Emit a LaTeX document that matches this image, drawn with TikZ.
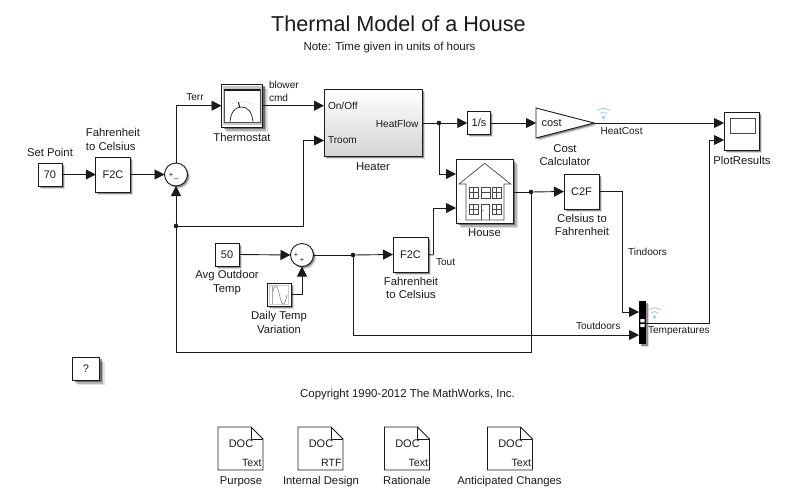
\documentclass[tikz,border=0pt]{standalone}
\usepackage{fontspec}
\setmainfont{Liberation Sans}
\usetikzlibrary{arrows.meta,shadows,shapes.geometric,calc}
\definecolor{ln}{HTML}{1A1A1A}
\definecolor{wifi}{HTML}{A9C8E6}
\tikzset{
  x=1pt,y=-1pt,
  lbl/.style={inner sep=0,outer sep=0,font=\fontsize{11.3}{13.6}\selectfont,text=ln,align=center},
  sig/.style={lbl,font=\fontsize{10.1}{12.5}\selectfont},
  shad/.style={general shadow={fill=black,opacity=.14,shadow xshift=2.6pt,shadow yshift=-2.6pt},
               general shadow={fill=black,opacity=.35,shadow xshift=1.5pt,shadow yshift=-1.5pt}},
  bigshad/.style={general shadow={fill=black,opacity=.12,shadow xshift=5pt,shadow yshift=-5pt},
               general shadow={fill=black,opacity=.2,shadow xshift=3.5pt,shadow yshift=-3.5pt},
               general shadow={fill=black,opacity=.4,shadow xshift=2pt,shadow yshift=-2pt}},
  blkbase/.style={draw=ln,line width=.9pt,fill=white,inner sep=0,outer sep=0,rectangle,font=\fontsize{11}{13}\selectfont,text=ln},
  blk/.style={blkbase,shad},
  bigblk/.style={blkbase,bigshad},
  sumb/.style={blk,circle,minimum size=23pt},
  wire/.style={draw=ln,line width=.9pt,-{Triangle[length=10pt,width=10pt]}},
  seg/.style={draw=ln,line width=.9pt},
  dot/.style={circle,fill=ln,inner sep=0,outer sep=0,minimum size=4.6pt},
  sgn/.style={inner sep=0,font=\fontsize{7.5}{8}\selectfont,text=ln},
  icon/.style={draw=ln!75,line width=.7pt},
  wf/.style={draw=wifi,line width=.8pt,line cap=round},
}
\newcommand{\docblock}[4]{% name, left, top, type
  \node[inner sep=0,outer sep=0,minimum width=45pt,minimum height=43pt,anchor=north west] (#1) at (#2,#3) {};
  \draw[draw=ln,line width=.8pt,fill=white] (#1.north west) -- ($(#1.north east)+(-12,0)$) -- ($(#1.north east)+(0,12)$) -- (#1.south east) -- (#1.south west) -- cycle;
  \draw[draw=ln,line width=.8pt] ($(#1.north east)+(-12,0)$) -- ($(#1.north east)+(-12,12)$) -- ($(#1.north east)+(0,12)$);
  \node[lbl,font=\fontsize{11}{13}\selectfont] (#1d) at ($(#1.north)+(0.5,17)$) {DOC};
  \node[lbl,anchor=east,font=\fontsize{10.6}{13}\selectfont] (#1t) at ($(#1.south east)+(-1.5,-7)$) {#4};
}
\newcommand{\wifiicon}[3]{% x, y (of dot), name
  \node[circle,fill=wifi,inner sep=0,minimum size=3.6pt] (#3) at (#1,#2) {};
  \draw[wf] (#1-3.6,#2-4) arc[start angle=-132,end angle=-48,radius=5.4];
  \draw[wf] (#1-6,#2-7) arc[start angle=-130,end angle=-50,radius=9.3];
}
\begin{document}
\begin{tikzpicture}
\useasboundingbox (0,0) rectangle (801,499);
\fill[white] (0,0) rectangle (801,499);

% titles
\node[lbl,font=\fontsize{21.6}{26}\selectfont] (title) at (398.5,24) {Thermal Model of a House};
\node[lbl,font=\fontsize{11.5}{14}\selectfont] (note) at (389.5,48) {Note: Time given in units of hours};

% blocks
\node[blk,minimum width=24pt,minimum height=23pt] (sp) at (50,174.5) {70};
\node[blk,minimum width=34.5pt,minimum height=35pt] (f1) at (113,174.5) {F2C};
\node[sumb] (s1) at (176,174.5) {};
\node[bigblk,minimum width=41pt,minimum height=43.5pt] (th) at (242,105.7) {};
\node[blk,minimum width=98pt,minimum height=67pt,shade,top color=white,middle color=black!4,bottom color=black!17] (he) at (373,122.5) {};
\node[blk,minimum width=23.5pt,minimum height=23pt] (int) at (479,123) {1/s};
\node[blk,isosceles triangle,isosceles triangle apex angle=56,isosceles triangle stretches=true,minimum width=30pt,minimum height=58pt,anchor=apex] (co) at (594,123) {};
\node[blk,minimum width=35pt,minimum height=38pt] (pl) at (741.5,131) {};
\node[bigblk,minimum width=57pt,minimum height=64pt] (ho) at (484.5,191) {};
\node[blk,minimum width=35pt,minimum height=35pt] (c2) at (581.5,191.5) {C2F};
\node[blk,minimum width=24pt,minimum height=23pt] (av) at (227,254.5) {50};
\node[sumb] (s2) at (302,255) {};
\node[blk,minimum width=24pt,minimum height=23pt] (si) at (279,294.5) {};
\node[blk,minimum width=35pt,minimum height=35pt] (f2) at (410.5,254.5) {F2C};
\node[rectangle,fill=black,shad,inner sep=0,outer sep=0,minimum width=7pt,minimum height=43pt] (mx) at (642.5,322.5) {};
\node[bigblk,minimum width=27pt,minimum height=23pt] (qm) at (86,368.5) {?};

% in-block details
\node[sgn] (p1) at (171,175) {+};
\node[sgn] (m1) at (176.5,178) {\_};
\node[sgn] (p2) at (296,255) {+};
\node[sgn] (p3) at (302,260.5) {+};
\node[sig,anchor=west] (on) at (328,105.7) {On/Off};
\node[sig,anchor=west] (tr) at (328,140.5) {Troom};
\node[sig,anchor=east] (hf) at (418.5,123.5) {HeatFlow};
\node[lbl,anchor=west,font=\fontsize{11}{13}\selectfont] (ct) at (541.5,123) {cost};

% thermostat icon
\fill[black!22] (223,85.5) rectangle (261.5,124.5);
\draw[icon,fill=white] (224.3,89) rectangle (260,122);
\draw[draw=ln,line width=1.3pt] (224.3,90) -- (260,90);
\draw[draw=ln,line width=.7pt] (230,121.7) .. controls (231,112) and (235,107) .. (241.5,107) .. controls (248,107) and (252,112) .. (253,121.7);
\draw[draw=ln,line width=1pt] (239.5,107) -- (238.5,102);
\fill[ln!70] (230,106) circle (.45) (233,103.5) circle (.45) (236.5,102) circle (.45) (242,101.5) circle (.45) (246,102) circle (.45) (250,103.5) circle (.45) (253,106) circle (.45);

% scope icon
\draw[draw=ln!80,line width=.8pt,fill=white] (730,118) rectangle (755.5,133);

% sine icon
\draw[draw=black!20,line width=.7pt,fill=white] (269.5,285) rectangle (288.5,304);
\draw[draw=black!50,line width=.55pt] (272,295) .. controls (274.5,283) and (277,283) .. (279.5,295) .. controls (282,307) and (284.5,307) .. (287,295);
\draw[draw=black!35,line width=.45pt] (272,286) -- (272,304);

% house icon
\draw[draw=ln!80,line width=.7pt,fill=white] (466,184) -- (459,184) -- (484.7,163.3) -- (510.7,184) -- (504,184) -- (504,220) -- (466,220) -- cycle;
\foreach \xa in {469,492}{
  \foreach \ya/\yb in {187/198,204/214}{
    \draw[draw=ln!80,line width=.55pt] (\xa,\ya) rectangle (\xa+9,\yb);
    \draw[draw=ln!80,line width=.55pt] (\xa+4.5,\ya) -- (\xa+4.5,\yb) (\xa,\ya/2+\yb/2) -- (\xa+9,\ya/2+\yb/2);
  }}
\draw[draw=ln!80,line width=.55pt] (481,187) rectangle (490,198) (481,192.5) -- (490,192.5);
\draw[draw=ln!80,line width=.55pt] (481.5,219.5) -- (481.5,204) -- (489,204) -- (489,219.5);
\fill[ln] (483,210.5) circle (.5);

% mux ports
\fill[white] (640.4,319) rectangle (644.6,322.3) (640.4,324) rectangle (644.6,327);

% junctions
\node[dot] (j1) at (176,226) {};
\node[dot] (j2) at (439,123) {};
\node[dot] (j3) at (531,192) {};
\node[dot] (j4) at (353,255) {};
\coordinate (c2a) at (303,226);
\coordinate (c3) at (531,352);
\coordinate (c3b) at (176,352);

% connectors
\draw[wire] (sp.east) -- (f1.west);
\draw[wire] (f1.east) -- (s1.west);
\draw[wire] (s1.north) |- (th.west);
\draw[wire] (th.east) -- (he.west |- th.east);
\draw[wire] (j1) -| (c2a) |- (he.west |- tr);
\draw[wire] (j1) -- (s1.south);
\draw[seg] (j1) -- (c3b) -- (c3) -- (j3);
\draw[seg] (he.east |- j2) -- (j2);
\draw[wire] (j2) -- (int.west);
\draw[wire] (int.east) -- (co.west |- int.east);
\draw[wire] (co.apex) -- (pl.west |- co.apex);
\draw[wire] (j2) |- (ho.west |- 0,174);
\coordinate (c4) at (433,255);
\draw[seg] (f2.east) -- (c4);
\draw[wire] (c4) |- (ho.west |- 0,208);
\draw[seg] (ho.east |- j3) -- (j3);
\draw[wire] (j3) -- (c2.west);
\draw[wire] (c2.east) -| (622,312) -- (mx.west |- 0,312);
\draw[wire] (av.east) -- (s2.west);
\draw[wire] (si.east) -| (s2.south);
\draw[seg] (s2.east) -- (j4);
\draw[wire] (j4) -- (f2.west);
\draw[wire] (j4) |- (mx.west |- 0,335);
\draw[wire] (mx.east |- 0,323) -| (709,140) -- (pl.west |- 0,140);

% docs
\docblock{d1}{218}{427}{Text}
\docblock{d2}{298}{427}{RTF}
\docblock{d3}{384.5}{427}{Text}
\docblock{d4}{487.5}{427}{Text}

% wifi
\wifiicon{603.5}{117.5}{w1}
\wifiicon{654.5}{317}{w2}

% labels
\node[lbl] (l1) at (50,152) {Set Point};
\node[lbl,align=left] (l2) at (113,139.5) {Fahrenheit\\to Celsius};
\node[sig] (l3) at (195,97.5) {Terr};
\node[sig,align=left,anchor=west] (l4) at (269,91.5) {blower\\cmd};
\node[lbl] (l5) at (242,137) {Thermostat};
\node[lbl] (l6) at (373,166.5) {Heater};
\node[lbl] (l7) at (565,155) {Cost\\Calculator};
\node[lbl] (l8) at (484.5,233) {House};
\node[lbl] (l9) at (582,225) {Celsius to\\Fahrenheit};
\node[sig,anchor=west] (l10) at (600.5,131.5) {HeatCost};
\node[lbl] (l11) at (742,160.5) {PlotResults};
\node[sig,anchor=west] (l12) at (628,251.5) {Tindoors};
\node[sig,anchor=west] (l13) at (436,262.5) {Tout};
\node[sig,anchor=west] (l14) at (576,325.5) {Toutdoors};
\node[sig,anchor=west] (l15) at (648,331.5) {Temperatures};
\node[lbl] (l16) at (227,282.5) {Avg Outdoor\\Temp};
\node[lbl] (l17) at (279,322.5) {Daily Temp\\Variation};
\node[lbl] (l18) at (411,288) {Fahrenheit\\to Celsius};
\node[lbl,font=\fontsize{11.4}{14}\selectfont] (l19) at (407.5,394.5) {Copyright 1990-2012 The MathWorks, Inc.};
\node[lbl,anchor=base] (l20) at (241,484) {Purpose};
\node[lbl,anchor=base] (l21) at (321,484) {Internal Design};
\node[lbl,anchor=base] (l22) at (407,484) {Rationale};
\node[lbl,anchor=base] (l23) at (509.5,484) {Anticipated Changes};
\end{tikzpicture}
\end{document}
